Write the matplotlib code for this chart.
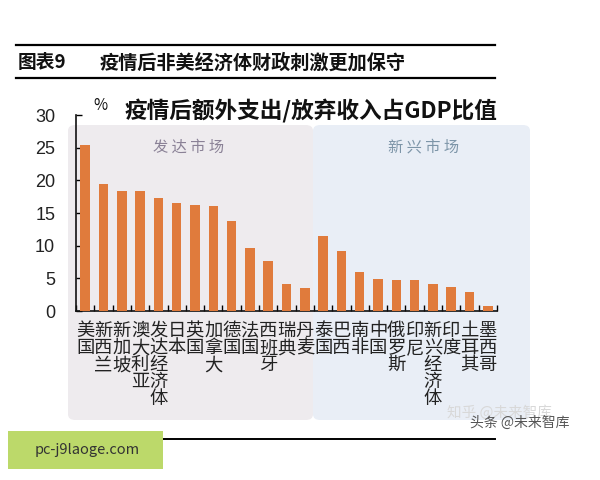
import matplotlib
matplotlib.use("Agg")
import matplotlib.pyplot as plt
from matplotlib.patches import FancyBboxPatch, Rectangle
from matplotlib.lines import Line2D

plt.rcParams['font.family'] = ['Noto Sans CJK SC', 'DejaVu Sans']

categories = ['美国', '新西兰', '新加坡', '澳大利亚', '发达经济体', '日本', '英国', '加拿大',
              '德国', '法国', '西班牙', '瑞典', '丹麦',
              '泰国', '巴西', '南非', '中国', '俄罗斯', '印尼', '新兴经济体', '印度', '土耳其', '墨西哥']
values = [25.4, 19.4, 18.4, 18.4, 17.3, 16.5, 16.2, 16.0, 13.7, 9.7, 7.7, 4.2, 3.5,
          11.5, 9.2, 6.0, 4.9, 4.7, 4.7, 4.2, 3.6, 2.9, 0.8]
yticks = [0, 5, 10, 15, 20, 25, 30]
n_developed = 13

W, H = 600, 480
fig = plt.figure(figsize=(6, 4.8), dpi=100)
fig.patch.set_facecolor('white')

def fx(px):
    return px / W

def fy(py):
    return 1 - py / H

# background panels
fig.patches.append(FancyBboxPatch((fx(68), fy(420)), fx(313) - fx(68), fy(125) - fy(420),
                                  boxstyle="round,pad=0,rounding_size=0.012",
                                  transform=fig.transFigure, facecolor='#eeebee',
                                  edgecolor='none', zorder=-2))
fig.patches.append(FancyBboxPatch((fx(313), fy(420)), fx(530) - fx(313), fy(125) - fy(420),
                                  boxstyle="round,pad=0,rounding_size=0.012",
                                  transform=fig.transFigure, facecolor='#e9eef6',
                                  edgecolor='none', zorder=-2))

ax = fig.add_axes([fx(76), fy(311), fx(497) - fx(76), fy(115) - fy(311)])
ax.set_zorder(2)
ax.set_facecolor('none')
x = list(range(len(categories)))
ax.bar(x, values, width=0.52, color='#e07b3c', zorder=3)
ax.set_xlim(-0.5, len(categories) - 0.5)
ax.set_ylim(0, 30)
ax.set_yticks(yticks)
ax.set_yticklabels([str(v) for v in yticks], fontsize=13, color='#222222',
                   family=['Liberation Sans', 'DejaVu Sans'])
ax.tick_params(axis='y', direction='in', length=4, pad=15, width=1)
ax.set_xticks([i - 0.5 for i in range(len(categories) + 1)])
ax.set_xticklabels([])
ax.tick_params(axis='x', direction='in', length=4, width=1)
for s in ['top', 'right']:
    ax.spines[s].set_visible(False)
for s in ['left', 'bottom']:
    ax.spines[s].set_color('#111111')
    ax.spines[s].set_linewidth(1.2)

# vertical category labels
for i, c in enumerate(categories):
    ax.text(i, -1.7, '\n'.join(c), ha='center', va='top', fontsize=13.2,
            linespacing=0.93, color='#222222', clip_on=False)

# panel labels
fig.text(fx(189), fy(147), '发 达 市 场', ha='center', va='center', fontsize=11,
         color='#8a8196')
fig.text(fx(424), fy(147), '新 兴 市 场', ha='center', va='center', fontsize=11,
         color='#7d95a8')

# chart title and unit
fig.text(fx(311), fy(111), '疫情后额外支出/放弃收入占GDP比值', ha='center', va='center',
         fontsize=16.3, fontweight='bold', color='#111111')
fig.text(fx(100), fy(106), '%', ha='center', va='center', fontsize=11, color='#111111')

# header
fig.add_artist(Line2D([fx(16), fx(495)], [fy(45), fy(45)], color='black', lw=1.6,
                      transform=fig.transFigure))
fig.add_artist(Line2D([fx(16), fx(495)], [fy(78), fy(78)], color='black', lw=1.6,
                      transform=fig.transFigure))
fig.text(fx(18), fy(63), '图表9', ha='left', va='center', fontsize=13.5,
         fontweight='bold', color='#111111')
fig.text(fx(100), fy(63), '疫情后非美经济体财政刺激更加保守', ha='left', va='center',
         fontsize=13.8, fontweight='bold', color='#111111')

# bottom line
fig.add_artist(Line2D([fx(16), fx(495)], [fy(439), fy(439)], color='black', lw=1.4,
                      transform=fig.transFigure))

# watermarks
fig.text(fx(447), fy(413), '知乎 @未来智库', ha='left', va='center', fontsize=10.5,
         color='#d8d8d8')
fig.text(fx(470), fy(423), '头条 @未来智库', ha='left', va='center', fontsize=10,
         color='#555555')

# green box
fig.patches.append(Rectangle((fx(8), fy(469)), fx(163) - fx(8), fy(431) - fy(469),
                             transform=fig.transFigure, facecolor='#bcd96a',
                             edgecolor='none', zorder=5))
fig.text(fx(35), fy(450), 'pc-j9laoge.com', ha='left', va='center', fontsize=10.5,
         color='#333333', zorder=6)

fig.savefig('out.png', dpi=100, facecolor='white')
